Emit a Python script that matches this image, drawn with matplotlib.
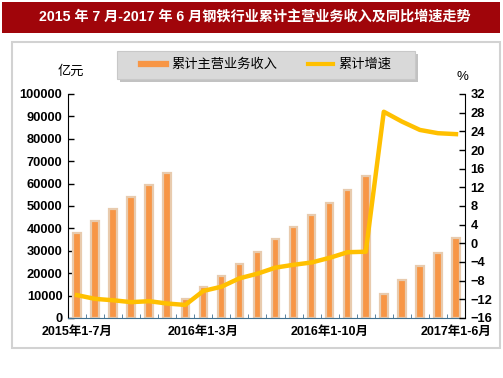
import numpy as np
import matplotlib
matplotlib.use('Agg')
import matplotlib.pyplot as plt
from matplotlib.lines import Line2D
from matplotlib.patches import Rectangle

plt.rcParams['font.family'] = ['Liberation Sans', 'Noto Sans CJK SC']

# categories (cumulative periods)
periods = ['2015年1-7月', '2015年1-8月', '2015年1-9月', '2015年1-10月', '2015年1-11月', '2015年1-12月',
           '2016年1-2月', '2016年1-3月', '2016年1-4月', '2016年1-5月', '2016年1-6月', '2016年1-7月',
           '2016年1-8月', '2016年1-9月', '2016年1-10月', '2016年1-11月', '2016年1-12月',
           '2017年1-2月', '2017年1-3月', '2017年1-4月', '2017年1-5月', '2017年1-6月']
# cumulative main business revenue (亿元)
revenue = [38000, 43400, 48700, 54000, 59400, 64800,
           8500, 13700, 18900, 24300, 29600, 35100,
           40500, 45800, 51200, 57300, 63300,
           10600, 16800, 23200, 29200, 35600]
# cumulative growth (%)
growth = [-11.1, -11.9, -12.2, -12.6, -12.4, -12.9,
          -13.2, -10.2, -9.3, -7.5, -6.5, -5.2,
          -4.6, -4.1, -3.1, -1.9, -1.8,
          28.2, 26.1, 24.3, 23.6, 23.4]
shown_labels = [0, 7, 14, 21]

bar_color = '#F79646'
bar_edge = '#E8CBAE'
line_color = '#FFC000'

fig = plt.figure(figsize=(5.03, 3.78), dpi=100)

# title bar
fig.patches.append(Rectangle((2/503, 1-33/378), 498/503, 31/378, transform=fig.transFigure,
                             facecolor='#A0050A', edgecolor='none', zorder=0))
fig.text(0.507, 1-17/378, '2015 年 7 月-2017 年 6 月钢铁行业累计主营业务收入及同比增速走势',
         color='white', fontsize=10.2, fontweight='bold', ha='center', va='center')

# chart frame
fig.patches.append(Rectangle((12/503, 1-348/378), 488/503, 306/378, transform=fig.transFigure,
                             facecolor='none', edgecolor='#D2D2D2', lw=1.5, zorder=0))

ax = fig.add_axes([68/503, 1-318/378, 397/503, 224/378])
x = np.arange(len(periods))
ax.bar(x, revenue, width=0.42, color=bar_color, edgecolor=bar_edge, linewidth=1.6, zorder=2)
ax.set_xlim(-0.5, len(periods)-0.5)
ax.set_ylim(0, 100000)
ax.set_yticks(np.arange(0, 100001, 10000))
ax.tick_params(axis='y', direction='in', length=4, width=1, labelsize=9.3, pad=4)
for t in ax.get_yticklabels():
    t.set_fontweight('bold')

ax.set_xticks(shown_labels)
ax.set_xticklabels([periods[i] for i in shown_labels], fontsize=9, fontweight='bold')
ax.tick_params(axis='x', length=0, pad=6)
ax.set_xticks(np.arange(-0.5, len(periods), 1), minor=True)
ax.tick_params(axis='x', which='minor', direction='in', length=3, color='#3F6F8F')

ax.spines['top'].set_visible(False)
ax.spines['right'].set_visible(False)
ax.spines['bottom'].set_color('#3F6F8F')
ax.spines['left'].set_color('black')

ax2 = ax.twinx()
ax2.plot(x, growth, color=line_color, lw=3.2, solid_joinstyle='round', zorder=3)
ax2.set_ylim(-16, 32)
ax2.set_yticks(np.arange(-16, 33, 4))
ax2.tick_params(axis='y', direction='in', length=4, width=1, labelsize=9.3, pad=4)
for t in ax2.get_yticklabels():
    t.set_fontweight('bold')
ax2.spines['top'].set_visible(False)
ax2.spines['left'].set_visible(False)
ax2.spines['bottom'].set_visible(False)
ax2.spines['right'].set_color('black')

fig.text(71/503, 1-72/378, '亿元', fontsize=9.5, ha='center', va='center')
fig.text(462/503, 1-77/378, '%', fontsize=9.5, ha='center', va='center')

# legend box with shadow
fig.patches.append(Rectangle((120/503, 1-82/378), 298/503, 28/378, transform=fig.transFigure,
                             facecolor='#9A9A9A', edgecolor='none', alpha=0.6, zorder=1))
fig.patches.append(Rectangle((117/503, 1-79/378), 298/503, 28/378, transform=fig.transFigure,
                             facecolor='#D9D9D9', edgecolor='#C8C8C8', lw=0.8, zorder=1))
handles = [Line2D([0], [0], color=bar_color, lw=4.5),
           Line2D([0], [0], color=line_color, lw=3)]
fig.legend(handles, ['累计主营业务收入', '累计增速'], loc='center', bbox_to_anchor=(0.529, 1-65/378),
           ncol=2, frameon=False, fontsize=9.5, handlelength=1.9, columnspacing=2.3,
           handletextpad=0.4)

fig.savefig('out.png', dpi=100)
